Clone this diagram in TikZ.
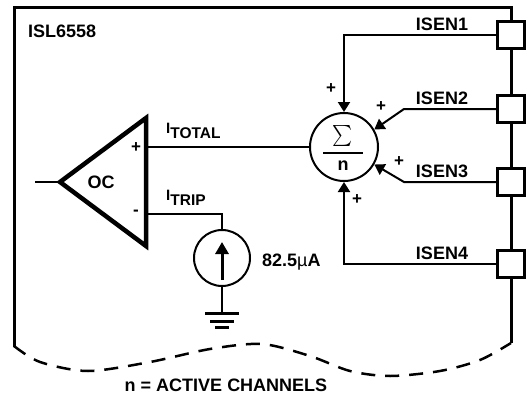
\documentclass[tikz,border=0pt]{standalone}
\usepackage{fontspec}
\setmainfont{Liberation Sans}
\usetikzlibrary{calc, arrows.meta}

\tikzset{
  lbl/.style={font=\fontsize{18}{18}\selectfont\bfseries, inner sep=0pt},
  sgn/.style={font=\fontsize{17}{17}\selectfont\bfseries, inner sep=0pt},
  wire/.style={line width=2pt},
  pad/.style={draw, line width=2.8pt, fill=white, minimum width=27pt, minimum height=27pt, inner sep=0pt},
  arr/.style={-{Triangle[length=10pt,width=12pt]}},
}
\newcommand{\curlbl}[1]{{\fontsize{15}{15}\selectfont I}\raisebox{-5.5pt}{\fontsize{15.5}{15.5}\selectfont #1}}

\begin{document}
\begin{tikzpicture}[x=1pt,y=-1pt]
    \useasboundingbox (0,0) rectangle (528,399);
    % frame and cut edge
    \draw[line width=3pt] (14,347) -- (14,7) -- (511,7) -- (511,343);
    \draw[line width=2.5pt, dash pattern=on 14pt off 10pt, smooth]
        plot coordinates {(14,346) (40,362) (88,371) (150,362) (210,349) (262,344)
                          (310,356) (350,371) (390,376) (440,371) (480,360) (511,343)};
    \node[lbl, anchor=west] (chip) at (28,31) {ISL6558};
    \node[lbl] (nact) at (226,385) {n = ACTIVE CHANNELS};

    % comparator
    \coordinate (oc top) at (146,118);
    \coordinate (oc bot) at (146,246);
    \coordinate (oc tip) at (60,182);
    \coordinate (oc in) at (35,182);
    \coordinate (oc p) at (146,147);
    \coordinate (oc m) at (146,214);
    \draw[line width=4.5pt, line join=miter] (oc top) -- (oc bot) -- (oc tip) -- cycle;
    \draw[wire] (oc in) -- (oc tip);
    \node[lbl] (oclbl) at (101,182) {OC};
    \node[sgn] at (136,148) {+};
    \node[sgn] at (136,213) {-};

    % summer
    \node[circle, draw, line width=2pt, minimum size=68pt, inner sep=0pt] (sum) at (344,147) {};
    \node[inner sep=0pt, xscale=1.9, yscale=2.1] at ($(sum)+(-1,-11)$) {$\sum$};
    \draw[line width=2pt] ($(sum)+(-21,6)$) -- ($(sum)+(19,6)$);
    \node[lbl] at ($(sum)+(-1,19)$) {n};
    \draw[wire] (oc p) -- (sum.west);
    \node[lbl, anchor=base west] at (166,133) {\curlbl{TOTAL}};

    % trip current source
    \node[circle, draw, line width=2pt, minimum size=56pt, inner sep=0pt] (src) at (222,258) {};
    \draw[line width=3pt, -{Triangle[length=12pt,width=13pt]}] ($(src)+(0,22)$) -- ($(src)+(0,-16)$);
    \draw[wire] (oc m) -| (src.north);
    \node[lbl, anchor=base west] at (166,200) {\curlbl{TRIP}};
    \node[lbl, anchor=west] at (262,262) {82.5{\normalfont\fontsize{18}{18}\selectfont µ}A};
    \coordinate (gnd) at (222,313);
    \draw[wire] (src.south) -- (gnd);
    \draw[line width=3pt] ($(gnd)+(-17,0)$) -- ($(gnd)+(17,0)$);
    \draw[line width=3pt] ($(gnd)+(-12,8)$) -- ($(gnd)+(12,8)$);
    \draw[line width=3pt] ($(gnd)+(-7,14)$) -- ($(gnd)+(7,14)$);

    % sense pins
    \foreach \i/\y in {1/35,2/109,3/182,4/264}{
        \node[pad] (isen\i) at (511,\y) {};
        \node[lbl] at (442,\y-11) {ISEN\i};
    }
    \coordinate (k2) at (404,109);
    \coordinate (k3) at (404,182);
    \draw[wire,arr] (isen1.west) -| (sum.north);
    \draw[wire,arr] (isen2.west) -- (k2) -- (sum.30);
    \draw[wire,arr] (isen3.west) -- (k3) -- (sum.-30);
    \draw[wire,arr] (isen4.west) -| (sum.south);
    \node[sgn] at (331,89) {+};
    \node[sgn] at (381,107) {+};
    \node[sgn] at (399,162) {+};
    \node[sgn] at (357,200) {+};
\end{tikzpicture}
\end{document}
